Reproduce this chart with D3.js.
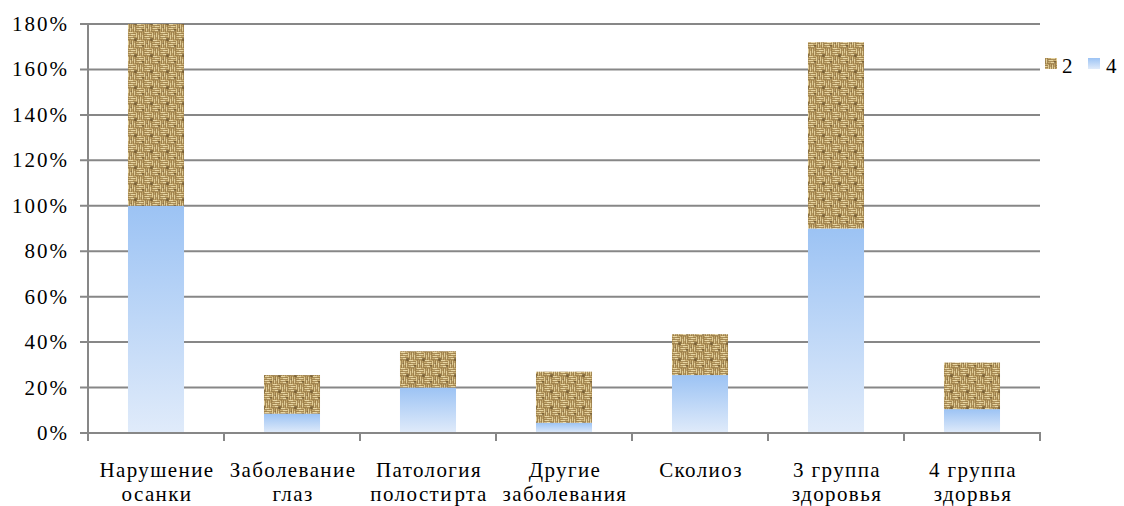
<!DOCTYPE html>
<html>
<head>
<meta charset="utf-8">
<script src="https://cdnjs.cloudflare.com/ajax/libs/d3/7.8.5/d3.min.js"></script>
<style>
  body { margin: 0; background: #fff; }
</style>
</head>
<body>
<div id="chart"></div>
<script>
// data
var categories = [
  ["Нарушение", "осанки"],
  ["Заболевание", "глаз"],
  ["Патология", "полости рта"],
  ["Другие", "заболевания"],
  ["Сколиоз"],
  ["3 группа", "здоровья"],
  ["4 группа", "здорвья"]
];
var series4 = [100, 8.5, 20, 4.5, 25.5, 90, 10.5];   // blue, bottom
var series2 = [80, 17, 16, 22.5, 18, 82, 20.5];      // burlap, top
var yTicks = [0, 20, 40, 60, 80, 100, 120, 140, 160, 180];
var seriesNames = ["2", "4"];

var w = 1124, h = 506;
var m = {top: 24, right: 84, bottom: 73, left: 88};
var gridColor = "#878787";
var serif = "Liberation Serif";

var svg = d3.select("#chart")
            .append("svg")
            .attr("width", w)
            .attr("height", h);

var defs = svg.append("defs");

// blue gradient fill
var grad = defs.append("linearGradient")
               .attr("id", "blueGrad")
               .attr("x1", 0).attr("y1", 0)
               .attr("x2", 0).attr("y2", 1);
grad.append("stop").attr("offset", "0%").attr("stop-color", "#9cc3f4");
grad.append("stop").attr("offset", "100%").attr("stop-color", "#e0ebfa");

// burlap-like woven texture
var pat = defs.append("pattern")
              .attr("id", "burlap")
              .attr("patternUnits", "userSpaceOnUse")
              .attr("width", 16)
              .attr("height", 16);
pat.append("rect").attr("width", 16).attr("height", 16).attr("fill", "#8f713e");
var blocks = [
  {x: 0, y: 0, dir: "h"}, {x: 8, y: 0, dir: "v"},
  {x: 0, y: 8, dir: "v"}, {x: 8, y: 8, dir: "h"}
];
blocks.forEach(function(b){
  for (var i = 0; i < 4; i++) {
    if (b.dir == "h") {
      pat.append("rect").attr("x", b.x).attr("y", b.y + i * 2).attr("width", 8).attr("height", 1.3).attr("fill", "#c8ad72");
      pat.append("rect").attr("x", b.x + 1 + (i % 2) * 2).attr("y", b.y + i * 2 + 0.2).attr("width", 4).attr("height", 0.9).attr("fill", "#efdfae");
    } else {
      pat.append("rect").attr("x", b.x + i * 2).attr("y", b.y).attr("width", 1.3).attr("height", 8).attr("fill", "#bfa268");
      pat.append("rect").attr("x", b.x + i * 2 + 0.2).attr("y", b.y + 1 + (i % 2) * 2).attr("width", 0.9).attr("height", 4).attr("fill", "#e8d6a2");
    }
  }
});
pat.append("rect").attr("x", 6).attr("y", 6).attr("width", 3).attr("height", 3).attr("fill", "#5f4622").attr("opacity", 0.55);
pat.append("rect").attr("x", 14).attr("y", 13).attr("width", 2).attr("height", 2).attr("fill", "#5f4622").attr("opacity", 0.55);
pat.append("rect").attr("x", 2).attr("y", 11).attr("width", 2).attr("height", 1).attr("fill", "#5f4622").attr("opacity", 0.4);

// scales
var xScale = d3.scaleBand()
               .domain(d3.range(categories.length))
               .range([m.left, w - m.right])
               .paddingInner(0.588)
               .paddingOuter(0.294);

var yScale = d3.scaleLinear()
               .domain([0, 180])
               .range([h - m.bottom, m.top]);

// gridlines
svg.append("g")
   .selectAll("line")
   .data(yTicks)
   .enter()
   .append("line")
   .attr("x1", m.left - 8)
   .attr("x2", w - m.right)
   .attr("y1", (d) => yScale(d))
   .attr("y2", (d) => yScale(d))
   .attr("stroke", gridColor)
   .attr("stroke-width", 2);

// y labels
svg.append("g")
   .selectAll("text")
   .data(yTicks)
   .enter()
   .append("text")
   .attr("x", 69)
   .attr("y", (d) => yScale(d) + 7)
   .attr("text-anchor", "end")
   .attr("font-family", serif)
   .attr("font-size", 21)
   .attr("letter-spacing", 2)
   .text((d) => d + "%");

// bars
var stack = categories.map(function(c, i){
  return {i: i, a: series4[i], b: series2[i]};
});

var bars = svg.append("g");
bars.selectAll("rect.blue")
    .data(stack)
    .enter()
    .append("rect")
    .attr("class", "blue")
    .attr("x", (d) => xScale(d.i))
    .attr("y", (d) => yScale(d.a))
    .attr("width", xScale.bandwidth())
    .attr("height", (d) => yScale(0) - yScale(d.a))
    .attr("fill", "url(#blueGrad)");

bars.selectAll("rect.brown")
    .data(stack)
    .enter()
    .append("rect")
    .attr("class", "brown")
    .attr("x", (d) => xScale(d.i))
    .attr("y", (d) => yScale(d.a + d.b))
    .attr("width", xScale.bandwidth())
    .attr("height", (d) => yScale(d.a) - yScale(d.a + d.b))
    .attr("fill", "url(#burlap)");

// axes lines
svg.append("line")
   .attr("x1", m.left).attr("x2", m.left)
   .attr("y1", yScale(180)).attr("y2", yScale(0) + 1)
   .attr("stroke", gridColor).attr("stroke-width", 2);

svg.append("line")
   .attr("x1", m.left - 8).attr("x2", w - m.right + 1)
   .attr("y1", yScale(0)).attr("y2", yScale(0))
   .attr("stroke", gridColor).attr("stroke-width", 2);

var bounds = d3.range(categories.length + 1).map(function(i){
  return m.left + i * xScale.step();
});
svg.append("g")
   .selectAll("line")
   .data(bounds)
   .enter()
   .append("line")
   .attr("x1", (d) => d).attr("x2", (d) => d)
   .attr("y1", yScale(0)).attr("y2", yScale(0) + 8)
   .attr("stroke", gridColor).attr("stroke-width", 2);

// category labels
var labels = svg.append("g")
                .selectAll("text")
                .data(categories)
                .enter()
                .append("text")
                .attr("text-anchor", "middle")
                .attr("font-family", serif)
                .attr("font-size", 21)
                .attr("letter-spacing", 1.4);
labels.each(function(d, i){
  var t = d3.select(this);
  d.forEach(function(line, j){
    t.append("tspan")
     .attr("x", xScale(i) + xScale.bandwidth() / 2 + 1)
     .attr("y", 477 + j * 24)
     .attr("word-spacing", j == 1 ? -5 : 0)
     .text(line);
  });
});

// legend
var legend = svg.append("g").attr("id", "legend");
legend.append("rect")
      .attr("x", 1045).attr("y", 58)
      .attr("width", 12).attr("height", 11)
      .attr("fill", "url(#burlap)");
legend.append("text")
      .attr("x", 1062).attr("y", 73)
      .attr("font-family", serif)
      .attr("font-size", 21)
      .text(seriesNames[0]);
legend.append("rect")
      .attr("x", 1088).attr("y", 58)
      .attr("width", 12).attr("height", 11)
      .attr("fill", "url(#blueGrad)");
legend.append("text")
      .attr("x", 1106).attr("y", 73)
      .attr("font-family", serif)
      .attr("font-size", 21)
      .text(seriesNames[1]);
</script>
</body>
</html>
